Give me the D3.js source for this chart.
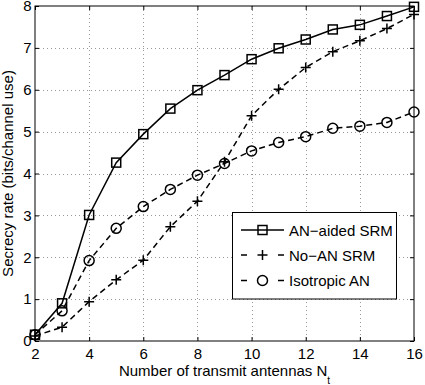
<!DOCTYPE html>
<html>
<head>
<meta charset="utf-8">
<script src="https://cdn.jsdelivr.net/npm/d3@7"></script>
<style>
  body { margin: 0; background: #fff; }
  svg { display: block; }
  text { font-family: "Liberation Sans", Arial, Helvetica, sans-serif; }
</style>
</head>
<body>
<svg id="vis" width="425" height="385"></svg>
<script>
const width = 425;
const height = 385;
const margin = {top: 6, right: 11, bottom: 44, left: 35};

// data
const antennas = [2, 3, 4, 5, 6, 7, 8, 9, 10, 11, 12, 13, 14, 15, 16];
const anAided = [0.15, 0.9, 3.01, 4.26, 4.94, 5.55, 5.99, 6.35, 6.73, 6.99, 7.2, 7.44, 7.55, 7.76, 7.98];
const noAN = [0.12, 0.33, 0.94, 1.46, 1.93, 2.73, 3.34, 4.28, 5.38, 6.01, 6.53, 6.91, 7.17, 7.46, 7.8];
const isotropic = [0.15, 0.72, 1.92, 2.69, 3.21, 3.62, 3.96, 4.24, 4.54, 4.74, 4.88, 5.08, 5.13, 5.22, 5.47];
const xTicks = [2, 4, 6, 8, 10, 12, 14, 16];
const yTicks = [0, 1, 2, 3, 4, 5, 6, 7, 8];
const seriesNames = ['AN\u2212aided SRM', 'No\u2212AN SRM', 'Isotropic AN'];

const series = [
  {name: seriesNames[0], values: anAided, marker: 'square', dash: null},
  {name: seriesNames[1], values: noAN, marker: 'plus', dash: '6,4'},
  {name: seriesNames[2], values: isotropic, marker: 'circle', dash: '6,4'}
];

const svg = d3.select('#vis');
const x = d3.scaleLinear().domain([2, 16]).range([margin.left, width - margin.right]);
const y = d3.scaleLinear().domain([0, 8]).range([height - margin.bottom, margin.top]);

// grid
const grid = svg.append('g').attr('class', 'grid')
  .attr('stroke', '#999').attr('stroke-width', 1).attr('stroke-dasharray', '1,3');
grid.selectAll('line.gx').data(xTicks.slice(1, -1)).enter().append('line')
  .attr('x1', d => Math.round(x(d)) + 0.5).attr('x2', d => Math.round(x(d)) + 0.5)
  .attr('y1', y(8)).attr('y2', y(0));
grid.selectAll('line.gy').data(yTicks.slice(1, -1)).enter().append('line')
  .attr('y1', d => Math.round(y(d)) + 0.5).attr('y2', d => Math.round(y(d)) + 0.5)
  .attr('x1', x(2)).attr('x2', x(16));

// axes
const fontSize = 15;
const xAxis = svg.append('g').attr('transform', `translate(0,${y(0)})`)
  .call(d3.axisBottom(x).tickValues(xTicks).tickSizeInner(-4).tickSizeOuter(0).tickPadding(7));
const yAxis = svg.append('g').attr('transform', `translate(${x(2)},0)`)
  .call(d3.axisLeft(y).tickValues(yTicks).tickSizeInner(-4).tickSizeOuter(0).tickPadding(3.5));
const topAxis = svg.append('g').attr('transform', `translate(0,${y(8)})`)
  .call(d3.axisTop(x).tickValues(xTicks).tickSizeInner(-4).tickSizeOuter(0).tickFormat(''));
const rightAxis = svg.append('g').attr('transform', `translate(${x(16)},0)`)
  .call(d3.axisRight(y).tickValues(yTicks).tickSizeInner(-4).tickSizeOuter(0).tickFormat(''));
[xAxis, yAxis, topAxis, rightAxis].forEach(g => {
  g.select('.domain').remove();
  g.selectAll('line').attr('stroke', '#000');
  g.selectAll('text').attr('fill', '#000').style('font-size', fontSize + 'px')
    .style('font-family', '"Liberation Sans", Arial, Helvetica, sans-serif');
});

svg.append('rect')
  .attr('x', x(2)).attr('y', y(8))
  .attr('width', x(16) - x(2)).attr('height', y(0) - y(8))
  .attr('fill', 'none').attr('stroke', '#000').attr('stroke-width', 1);

// labels
svg.append('text')
  .attr('transform', `translate(13,${(y(0) + y(8)) / 2}) rotate(-90)`)
  .attr('text-anchor', 'middle')
  .style('font-size', fontSize + 'px')
  .text('Secrecy rate (bits/channel use)');

const xl = svg.append('text')
  .attr('x', (x(2) + x(16)) / 2).attr('y', 376)
  .attr('text-anchor', 'middle')
  .style('font-size', fontSize + 'px');
xl.append('tspan').text('Number of transmit antennas N');
xl.append('tspan').attr('dy', 7.5).style('font-size', '10px').text('t');

// markers
function drawMarker(g, type, cx, cy) {
  if (type === 'square') {
    g.append('rect').attr('x', cx - 4.5).attr('y', cy - 4.5).attr('width', 9).attr('height', 9);
  } else if (type === 'circle') {
    g.append('circle').attr('cx', cx).attr('cy', cy).attr('r', 5);
  } else {
    g.append('path').attr('d', `M${cx - 5},${cy}H${cx + 5}M${cx},${cy - 5}V${cy + 5}`);
  }
}

const line = d3.line().x((d, i) => x(antennas[i])).y(d => y(d));
series.forEach(s => {
  const g = svg.append('g').attr('fill', 'none').attr('stroke', '#000').attr('stroke-width', 1.5);
  g.append('path').attr('d', line(s.values)).attr('stroke-dasharray', s.dash);
  s.values.forEach((v, i) => drawMarker(g, s.marker, x(antennas[i]), y(v)));
});

// legend
const legend = svg.append('g');
legend.append('rect')
  .attr('x', 232.5).attr('y', 212.5).attr('width', 164).attr('height', 86.5)
  .attr('fill', '#fff').attr('stroke', '#000').attr('stroke-width', 1);
const rowY = [230, 255, 280.5];
series.forEach((s, i) => {
  const g = legend.append('g').attr('fill', 'none').attr('stroke', '#000').attr('stroke-width', 1.5);
  g.append('line').attr('x1', 241).attr('x2', 284).attr('y1', rowY[i]).attr('y2', rowY[i])
    .attr('stroke-dasharray', s.dash ? '6,31' : null);
  drawMarker(g, s.marker, 262.5, rowY[i]);
  legend.append('text').attr('x', 289).attr('y', rowY[i] + 5.5)
    .style('font-size', fontSize + 'px').text(s.name);
});
</script>
</body>
</html>
